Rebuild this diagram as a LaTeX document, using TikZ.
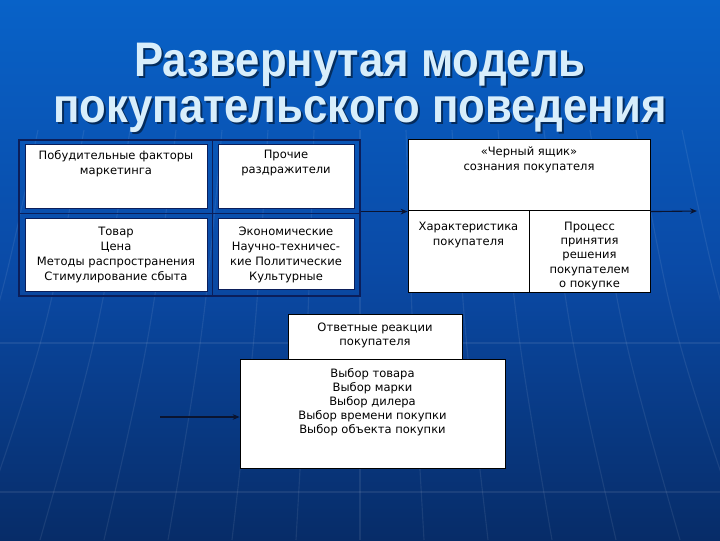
\documentclass[tikz,border=0pt]{standalone}
\usepackage{fontspec}
\setmainfont{DejaVu Sans}
\newfontfamily\titlefont[FakeStretch=0.9]{Liberation Sans}
\usetikzlibrary{arrows.meta,positioning,fit,calc,backgrounds}
\definecolor{bgtop}{HTML}{0862C8}
\definecolor{bgmid}{HTML}{0A4AA6}
\definecolor{bgbot}{HTML}{072C68}
\definecolor{framec}{HTML}{0B1E5A}
\definecolor{titlec}{HTML}{D8EEFB}
\definecolor{linec}{HTML}{0A1430}
\newdimen\px \px=0.025cm
\newcommand{\celltext}[3]{\parbox[c][#1\px][t]{#2\px}{\centering #3}}

\begin{document}
\begin{tikzpicture}[x=0.025cm,y=-0.025cm,font=\fontsize{8.2}{10.7}\selectfont,>={Stealth[length=5pt,width=4pt]},cell/.style={draw=#1,fill=white,inner xsep=0pt,inner ysep=3pt,line width=.5pt},title/.style={font=\titlefont\bfseries\fontsize{34.5}{33}\selectfont,align=center},arr/.style={->,line width=.8pt,draw=linec},divider/.style={draw=framec,line width=1.4pt},gridc/.style={draw=white,opacity=.08,line width=.8pt},tight/.style={font=\fontsize{8.2}{10.1}\selectfont}]
\useasboundingbox (0,0) rectangle (720,540);
\fill[top color=bgtop,bottom color=bgbot,middle color=bgmid] (0,0) rectangle (720,540);
\begin{scope}
\clip (0,0) rectangle (720,540);
\foreach \i in {-7,...,7} \draw[gridc] (360+\i*46,130) .. controls (360+\i*52,330) .. (360+\i*64,540);
\draw[gridc] (0,343)--(720,343);\draw[gridc] (0,492)--(720,492);
\end{scope}
\node[title,text=black,opacity=.5] (ttlsh) at (362,90) {Развернутая модель\\покупательского поведения};
\node[title,text=titlec] (ttl) at (360,88) {Развернутая модель\\покупательского поведения};
% стимулы
\node[cell=framec] (mkt) at (116,176.5) {\celltext{55}{182}{\vspace{1pt}Побудительные факторы\\маркетинга}};
\node[cell=framec] (oth) at (286,176.5) {\celltext{55}{136}{\vspace{1pt}Прочие\\раздражители}};
\node[cell=framec] (mix) at (116,255) {\celltext{64}{182}{\vspace{3pt}Товар\\Цена\\Методы распространения\\Стимулирование сбыта}};
\node[cell=framec] (env) at (286,254) {\celltext{62}{136}{\vspace{3pt}Экономические\\Научно-техничес-\\кие Политические\\Культурные}};
\node[draw=framec,line width=1.4pt,inner xsep=6\px,inner ysep=4\px,fit=(mkt)(oth)(mix)(env)] (grp) {};
\coordinate (vmid) at ($(mkt.east)!.5!(oth.west)$);
\coordinate (hmid) at ($(mkt.south)!.5!(mix.north)$);
\draw[divider] (grp.north-|vmid)--(grp.south-|vmid);
\draw[divider] (grp.west|-hmid)--(grp.east|-hmid);
% черный ящик
\node[cell=black] (blk) at (529,175.5) {\celltext{63}{242}{\vspace{2pt}«Черный ящик»\\сознания покупателя}};
\node[cell=black] (chr) at (468.5,251.5) {\celltext{73}{121}{\vspace{5pt}Характеристика\\покупателя}};
\node[cell=black,tight] (proc) at (589.5,251.5) {\celltext{73}{121}{\vspace{5pt}Процесс\\принятия\\решения\\покупателем\\о покупке}};
% ответные реакции
\node[cell=black,tight] (resp) at (375,337) {\celltext{36}{174}{\vspace{3pt}Ответные реакции\\покупателя}};
\node[cell=black,tight] (choice) at (372.5,414) {\celltext{100}{265}{\vspace{3pt}Выбор товара\\Выбор марки\\Выбор дилера\\Выбор времени покупки\\Выбор объекта покупки}};
\coordinate (src) at (160,417);
\coordinate (dst) at (697,211);
\draw[arr] (grp.east|-blk.south)--(blk.south west);
\draw[arr] (blk.south east)--(dst);
\draw[arr] (src)--(src-|choice.west);
\end{tikzpicture}
\end{document}
